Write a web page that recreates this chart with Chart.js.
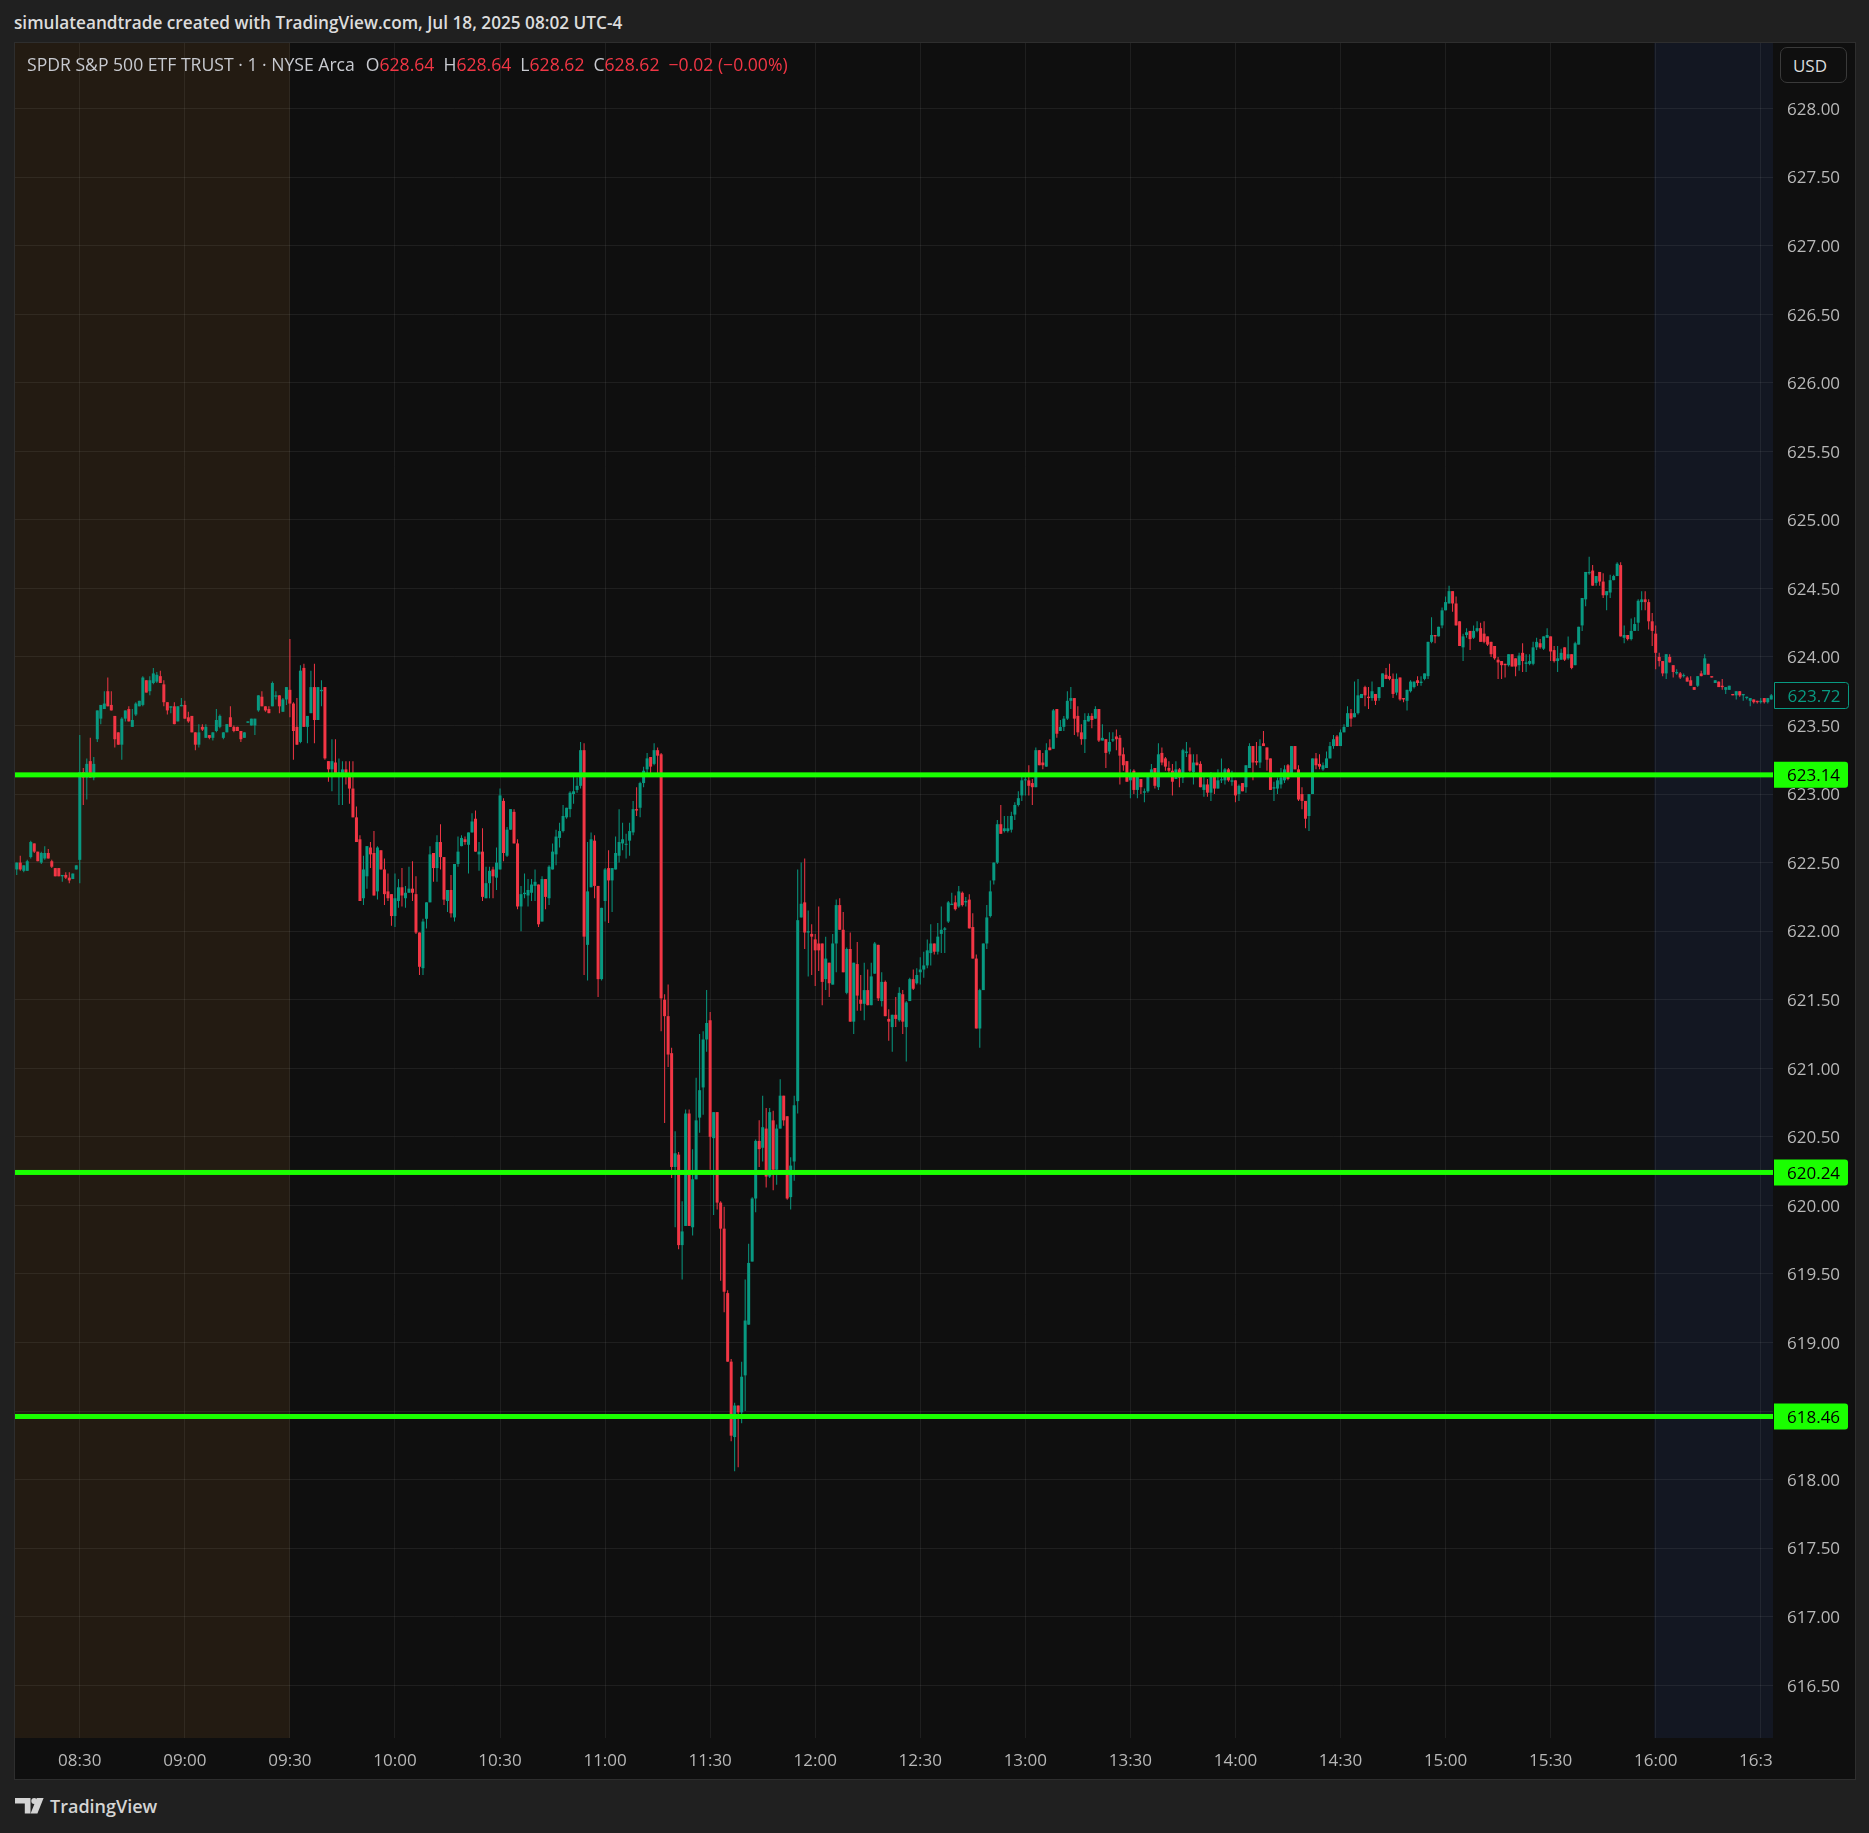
<!DOCTYPE html>
<html lang="en">
<head>
<meta charset="UTF-8">
<title>SPY 1m - TradingView snapshot</title>
<style>
    * { margin: 0; padding: 0; box-sizing: border-box; }

    body {
        width: 1869px;
        height: 1833px;
        background: #202020;
        position: relative;
        overflow: hidden;
        font-family: 'Open Sans', 'Noto Sans', sans-serif;
        color: #d1d4dc;
    }

    /* snapshot header */
    #header {
        position: absolute;
        left: 14px;
        top: 11px;
        font-size: 17.2px;
        font-weight: 600;
        line-height: 24px;
        color: #dcdcdc;
        white-space: nowrap;
    }

    /* chart frame */
    #frame {
        position: absolute;
        left: 14px;
        top: 42px;
        width: 1842px;
        height: 1738px;
        border: 1px solid #2e2e2e;
        background: #0f0f0f;
    }

    #wrap {
        position: absolute;
        left: 15px;
        top: 43px;
        width: 1839px;
        height: 1736px;
    }

    /* symbol legend */
    #legend {
        position: absolute;
        left: 27px;
        top: 52px;
        font-size: 17.6px;
        line-height: 24px;
        white-space: nowrap;
        color: #c8cad0;
    }
    #legend .r { color: #f23645; }
    #legend .gap { margin-left: 9px; }
    #legend .first { margin-left: 11px; }

    #usd {
        position: absolute;
        left: 1780px;
        top: 47px;
        width: 67px;
        height: 36px;
        border: 1px solid #3a3a3a;
        border-radius: 7px;
        background: #0f0f0f;
        font-size: 17px;
        line-height: 36px;
        padding-right: 7px;
        text-align: center;
        color: #dcdcdc;
    }

    #logo {
        position: absolute;
        left: 15px;
        top: 1797px;
        height: 20px;
    }
    #logo span {
        position: absolute;
        left: 35px;
        top: -4px;
        font-size: 18px;
        font-weight: 600;
        line-height: 26px;
        color: #d4d4d4;
        white-space: nowrap;
    }
</style>
</head>
<body>
    <div id="header">simulateandtrade created with TradingView.com, Jul 18, 2025 08:02 UTC-4</div>
    <div id="frame"></div>
    <div id="wrap"><canvas id="chart"></canvas></div>
    <div id="legend">SPDR S&amp;P 500 ETF TRUST · 1 · NYSE Arca<span class="first">O</span><span class="r">628.64</span><span class="gap">H</span><span class="r">628.64</span><span class="gap">L</span><span class="r">628.62</span><span class="gap">C</span><span class="r">628.62</span><span class="gap r">−0.02 (−0.00%)</span></div>
    <div id="usd">USD</div>
    <div id="logo">
        <svg width="30" height="17" viewBox="0 0 30 17">
            <path d="M0 1h15.5v15.5h-5.7V6.5H0z" fill="#d4d4d4"/>
            <circle cx="19.2" cy="4" r="2.9" fill="#d4d4d4"/>
            <path d="M21.8 1h6.8l-6.2 15.5h-6.8z" fill="#d4d4d4"/>
        </svg>
        <span>TradingView</span>
    </div>

    <script src="https://cdn.jsdelivr.net/npm/chart.js"></script>
    <script>
        // session / axis settings
        const startTime = '08:12';      // first 1-minute bar
        const regularOpen = '09:30';
        const regularClose = '16:00';
        const timeTicks = ['08:30', '09:00', '09:30', '10:00', '10:30', '11:00', '11:30', '12:00', '12:30',
                           '13:00', '13:30', '14:00', '14:30', '15:00', '15:30', '16:00', '16:30'];
        const yMin = 616.115;
        const yMax = 628.478;

        // horizontal levels drawn on the chart
        const levels = [623.14, 620.24, 618.46];
        const lastPrice = 623.72;

        // 1-minute OHLC, 08:12 .. 16:33
        const opens = [
            622.45,622.50,622.44,622.44,622.54,622.64,622.58,622.50,622.53,622.57,622.51,622.46,622.46,622.40,622.41,622.39,622.38,622.45,
            622.52,623.16,623.12,623.24,623.12,623.40,623.55,623.62,623.75,623.65,
            623.57,623.45,623.36,623.55,623.62,623.49,623.58,623.64,623.65,623.83,
            623.75,623.81,623.82,623.86,623.80,623.67,623.63,623.64,623.53,623.64,
            623.65,623.56,623.57,623.45,623.36,623.49,623.41,623.43,623.41,623.46,
            623.49,623.41,623.45,623.56,623.49,623.49,623.46,623.41,623.52,623.50,
            623.50,623.61,623.71,623.64,623.62,623.64,623.71,623.72,623.60,623.69,
            623.76,623.66,623.49,623.38,623.92,623.49,623.59,623.78,623.54,623.75,
            623.78,623.24,623.18,623.23,623.14,623.15,623.18,623.13,623.04,622.83,
            622.67,622.24,622.40,622.61,622.57,622.29,622.59,622.45,622.29,622.27,
            622.11,622.22,622.32,622.24,622.28,622.31,622.27,621.99,621.73,622.09,
            622.21,622.57,622.46,622.65,622.54,622.22,622.30,622.10,622.49,622.62,
            622.67,622.63,622.72,622.82,622.56,622.58,622.24,622.35,622.45,622.39,
            622.45,
            622.95,622.55,622.74,622.87,622.64,622.18,622.27,622.26,622.28,622.33,
            622.34,622.07,622.38,622.24,622.45,622.56,622.68,622.73,622.83,622.89,
            623.00,623.03,623.06,623.32,621.90,622.32,622.66,622.33,621.65,622.22,
            622.46,622.37,622.45,622.55,622.64,622.63,622.66,622.72,622.89,622.90,
            623.08,623.18,623.27,623.22,623.32,623.29,621.50,621.38,621.11,620.28,
            620.37,619.71,619.85,620.67,619.84,620.19,620.64,620.86,621.21,621.35,
            620.49,620.68,620.02,619.83,619.36,618.86,618.31,618.54,618.49,618.76,
            619.13,619.59,620.05,620.47,620.42,620.56,620.21,620.62,620.26,620.56,
            620.80,620.65,620.06,620.32,620.76,622.10,622.21,621.99,621.98,621.94,
            621.91,621.91,621.65,621.77,621.61,621.91,622.19,622.01,621.55,621.87,
            621.34,621.76,621.50,621.47,621.57,621.46,621.69,621.90,621.49,621.63,
            621.36,621.30,621.39,621.35,621.54,621.30,621.49,621.65,621.62,621.70,
            621.72,621.75,621.84,621.91,621.85,621.98,622.01,622.07,622.19,622.21,
            622.18,622.28,622.21,622.23,622.03,621.80,621.29,
            621.57,621.91,622.11,622.37,622.50,622.78,622.73,622.73,622.74,622.85,622.92,622.99,
            623.10,623.10,623.08,623.05,623.32,623.23,623.20,623.34,623.33,623.62,
            623.46,623.49,623.55,623.68,623.70,623.57,623.45,623.40,623.53,623.57,
            623.55,623.62,623.39,623.40,623.31,623.39,623.42,623.41,623.29,623.24,
            623.10,623.17,623.03,623.11,623.01,623.02,623.13,623.19,623.05,623.30,
            623.26,623.19,623.17,623.11,623.18,623.12,623.30,623.29,623.16,623.23,
            623.22,623.03,623.07,623.01,623.14,623.04,623.10,623.10,623.18,623.09,
            623.10,623.00,623.08,623.05,623.19,623.35,623.24,623.23,623.37,623.34,
            623.26,623.04,623.04,623.07,623.10,623.21,623.13,623.35,623.18,623.00,
            622.95,622.84,623.00,623.26,623.22,623.18,623.19,623.26,623.35,623.42,
            623.35,623.45,623.49,
            623.59,623.56,623.59,623.70,623.78,623.71,623.70,
            623.73,623.70,623.78,623.87,623.86,623.84,623.74,623.85,623.70,623.68,
            623.75,623.78,623.83,623.81,623.84,623.86,624.11,624.16,624.15,624.23,
            624.34,624.39,624.48,624.39,624.26,624.07,624.16,624.19,624.14,624.19,
            624.21,624.17,624.15,624.11,624.08,623.98,623.97,623.95,623.94,624.02,
            623.99,623.94,624.03,623.95,623.95,623.95,624.07,624.10,624.06,624.14,
            624.15,624.05,623.97,623.98,624.07,623.99,624.02,623.94,624.09,624.23,
            624.42,624.61,624.63,624.54,624.62,624.55,624.45,624.47,624.56,624.59,
            624.67,624.14,624.16,624.13,624.19,624.25,624.40,624.42,624.40,624.26,
            624.17,624.00,623.97,623.88,624.00,623.94,623.88,623.88,623.86,623.85,
            623.83,623.78,623.79,623.88,623.87,623.95,623.86,623.81,623.82,623.79,
            623.76,623.76,623.73,623.72,623.75,623.72,623.70,623.68,623.69,623.68,
            623.67,623.70,623.67,623.69
        ];
        const highs = [
            622.50,622.55,622.48,622.52,622.66,622.64,622.58,622.58,622.62,622.60,622.52,622.46,622.46,622.41,622.43,622.43,622.42,622.48,
            623.43,623.19,623.26,623.41,623.27,623.61,623.65,623.75,623.85,623.75,
            623.57,623.45,623.56,623.61,623.64,623.62,623.67,623.68,623.86,623.83,
            623.86,623.92,623.89,623.90,623.83,623.67,623.64,623.67,623.64,623.70,
            623.68,623.60,623.57,623.45,623.51,623.51,623.51,623.43,623.45,623.62,
            623.58,623.45,623.51,623.64,623.50,623.49,623.46,623.45,623.53,623.55,
            623.55,623.72,623.75,623.64,623.64,623.82,623.75,623.72,623.70,623.78,
            624.13,623.67,623.70,623.94,623.95,623.57,623.90,623.95,623.78,623.83,
            623.78,623.24,623.40,623.40,623.26,623.24,623.24,623.24,623.24,622.91,
            622.70,622.55,622.62,622.65,622.73,622.62,622.59,622.53,622.42,622.27,
            622.42,622.38,622.46,622.33,622.47,622.51,622.40,621.99,622.09,622.21,
            622.62,622.57,622.70,622.78,622.54,622.30,622.41,622.49,622.69,622.70,
            622.69,622.72,622.86,622.88,622.65,622.75,622.47,622.47,622.47,622.61,
            623.04,
            622.97,622.76,622.89,622.89,622.67,622.33,622.42,622.38,622.38,622.45,
            622.34,622.40,622.38,622.48,622.64,622.74,622.79,622.92,622.90,623.02,
            623.15,623.12,623.38,623.37,622.65,622.72,622.70,622.33,622.17,622.46,
            622.59,622.46,622.69,622.89,622.79,622.71,622.79,622.95,623.05,623.09,
            623.20,623.30,623.27,623.37,623.34,623.30,621.54,621.61,621.15,620.54,
            620.39,620.03,620.70,620.70,620.41,620.93,621.25,621.27,621.57,621.41,
            620.68,620.68,620.03,619.99,619.38,618.88,618.56,618.54,618.86,619.46,
            619.72,620.06,620.48,620.62,620.80,620.71,620.71,620.69,620.59,620.92,
            620.80,620.65,620.35,620.80,622.45,622.50,622.53,622.15,622.05,621.98,
            622.18,621.91,621.96,621.77,621.98,622.23,622.24,622.14,621.88,621.99,
            621.77,621.92,621.68,621.77,621.72,621.77,621.92,621.90,621.70,621.64,
            621.43,621.39,621.52,621.59,621.57,621.49,621.66,621.72,621.73,621.81,
            621.85,621.94,622.05,621.91,622.06,622.18,622.03,622.22,622.28,622.26,
            622.33,622.29,622.25,622.27,622.13,621.83,621.58,
            621.91,622.19,622.37,622.50,622.81,622.92,622.84,622.84,622.87,622.94,623.02,623.13,
            623.14,623.21,623.11,623.34,623.32,623.30,623.37,623.40,623.62,623.62,
            623.54,623.57,623.75,623.78,623.70,623.64,623.51,623.59,623.59,623.59,
            623.64,623.62,623.51,623.40,623.45,623.45,623.47,623.43,623.34,623.24,
            623.18,623.18,623.13,623.11,623.04,623.13,623.22,623.19,623.37,623.34,
            623.27,623.24,623.22,623.24,623.19,623.33,623.38,623.34,623.29,623.29,
            623.24,623.15,623.11,623.16,623.14,623.18,623.26,623.19,623.19,623.17,
            623.10,623.07,623.08,623.21,623.37,623.35,623.38,623.40,623.46,623.34,
            623.26,623.09,623.12,623.19,623.21,623.22,623.35,623.35,623.21,623.05,
            622.95,623.00,623.26,623.30,623.29,623.23,623.31,623.38,623.43,623.43,
            623.47,623.51,623.64,
            623.62,623.82,623.84,623.73,623.79,623.78,623.82,
            623.73,623.78,623.88,623.92,623.95,623.88,623.88,623.85,623.70,623.76,
            623.83,623.82,623.86,623.86,623.88,624.11,624.29,624.16,624.22,624.36,
            624.44,624.52,624.48,624.44,624.26,624.17,624.21,624.19,624.23,624.26,
            624.25,624.26,624.15,624.11,624.08,624.00,623.97,623.95,624.02,624.02,
            623.99,624.03,624.10,624.02,624.02,624.11,624.14,624.13,624.15,624.21,
            624.15,624.08,624.08,624.06,624.07,624.15,624.02,624.11,624.22,624.43,
            624.62,624.73,624.67,624.59,624.62,624.61,624.48,624.60,624.60,624.69,
            624.69,624.23,624.16,624.28,624.29,624.42,624.48,624.48,624.42,624.32,
            624.23,624.03,623.97,624.02,624.02,623.94,623.91,623.89,623.88,623.86,
            623.86,623.78,623.86,623.90,624.02,623.95,623.86,623.83,623.82,623.84,
            623.78,623.79,623.73,623.75,623.75,623.73,623.71,623.70,623.69,623.68,
            623.70,623.70,623.70,623.73
        ];
        const lows = [
            622.41,622.44,622.43,622.44,622.53,622.57,622.51,622.49,622.52,622.53,622.46,622.40,622.40,622.36,622.38,622.35,622.38,622.45,
            622.35,622.92,622.96,623.12,623.10,623.38,623.51,623.62,623.64,623.61,
            623.34,623.36,623.25,623.53,623.53,623.49,623.57,623.64,623.64,623.74,
            623.72,623.80,623.81,623.81,623.64,623.58,623.59,623.51,623.53,623.64,
            623.55,623.52,623.45,623.32,623.34,623.46,623.41,623.40,623.39,623.45,
            623.48,623.40,623.45,623.49,623.45,623.46,623.38,623.41,623.52,623.50,
            623.43,623.60,623.64,623.60,623.59,623.64,623.69,623.59,623.60,623.65,
            623.56,623.25,623.36,623.37,623.49,623.37,623.59,623.37,623.54,623.64,
            623.25,623.09,623.02,623.15,622.92,622.92,623.07,622.93,622.83,622.65,
            622.22,622.19,622.31,622.46,622.26,622.23,622.45,622.19,622.22,622.04,
            622.03,622.17,622.18,622.17,622.28,622.22,621.98,621.68,621.68,622.02,
            622.21,622.36,622.36,622.45,622.19,622.14,622.10,622.07,622.47,622.62,
            622.63,622.42,622.72,622.58,622.44,622.22,622.24,622.24,622.24,622.30,
            622.45,
            622.51,622.54,622.74,622.64,622.16,622.00,622.24,622.18,622.22,622.22,
            622.03,622.07,622.16,622.19,622.45,622.48,622.61,622.72,622.82,622.83,
            622.93,623.01,623.04,621.68,621.64,622.32,622.24,621.52,621.64,622.07,
            622.06,622.14,622.45,622.50,622.59,622.53,622.55,622.70,622.84,622.83,
            623.05,623.13,623.13,623.21,623.15,621.27,620.60,621.01,620.20,619.84,
            619.68,619.46,619.85,619.85,619.78,620.19,620.53,620.66,621.12,620.26,
            619.93,619.97,619.45,619.22,618.86,618.28,618.06,618.09,618.41,618.50,
            619.13,619.59,619.95,620.28,620.32,620.13,620.20,620.11,620.15,620.56,
            620.58,620.04,619.97,620.18,620.67,622.10,621.87,621.67,621.68,621.60,
            621.71,621.46,621.57,621.52,621.61,621.70,622.01,621.70,621.54,621.34,
            621.25,621.42,621.42,621.35,621.46,621.46,621.69,621.49,621.45,621.38,
            621.20,621.12,621.30,621.34,621.25,621.05,621.49,621.57,621.61,621.61,
            621.66,621.73,621.75,621.83,621.83,621.84,621.84,622.06,622.19,622.15,
            622.17,622.18,622.18,622.02,621.80,621.29,621.15,
            621.57,621.87,622.10,622.34,622.49,622.71,622.72,622.72,622.72,622.81,622.91,622.95,
            622.99,622.99,622.92,623.05,623.21,623.18,623.20,623.32,623.33,623.41,
            623.46,623.46,623.54,623.62,623.43,623.42,623.36,623.30,623.53,623.48,
            623.55,623.38,623.39,623.19,623.29,623.38,623.32,623.07,623.17,623.09,
            622.97,623.00,622.97,623.00,622.94,623.01,623.12,623.04,623.03,623.21,
            623.17,623.15,622.99,623.11,623.05,623.08,623.27,623.16,623.07,623.21,
            623.05,622.98,622.98,622.95,623.00,623.04,623.08,623.07,623.09,623.06,
            622.94,622.95,623.02,623.01,623.19,623.10,623.21,623.19,623.35,623.17,
            623.03,622.95,623.00,623.04,623.08,623.10,623.13,623.18,622.95,622.89,
            622.75,622.73,623.00,623.18,623.18,623.17,623.19,623.26,623.33,623.35,
            623.35,623.45,623.49,
            623.49,623.56,623.58,623.70,623.64,623.62,623.68,
            623.65,623.68,623.78,623.84,623.83,623.70,623.72,623.68,623.67,623.61,
            623.74,623.77,623.79,623.79,623.83,623.84,624.10,624.10,624.15,624.21,
            624.34,624.39,624.33,624.23,624.08,623.97,624.14,624.05,624.13,624.18,
            624.11,624.10,624.08,624.00,623.98,623.84,623.84,623.85,623.93,623.93,
            623.86,623.90,623.89,623.89,623.94,623.94,624.05,624.06,624.05,624.14,
            623.97,623.96,623.89,623.98,623.97,623.98,623.91,623.94,624.09,624.19,
            624.37,624.60,624.52,624.52,624.52,624.43,624.34,624.43,624.56,624.59,
            624.15,624.10,624.12,624.12,624.19,624.19,624.34,624.34,624.20,624.08,
            623.91,623.93,623.86,623.84,623.96,623.85,623.87,623.84,623.85,623.82,
            623.79,623.76,623.78,623.86,623.87,623.87,623.85,623.81,623.78,623.76,
            623.73,623.76,623.72,623.69,623.71,623.68,623.69,623.64,623.66,623.66,
            623.66,623.66,623.66,623.69
        ];
        const closes = [
            622.50,622.45,622.48,622.51,622.65,622.58,622.51,622.57,622.57,622.53,622.47,622.40,622.40,622.41,622.39,622.37,622.42,622.48,
            623.16,623.12,623.22,623.12,623.22,623.61,623.65,623.66,623.64,623.61,
            623.40,623.36,623.55,623.61,623.53,623.54,623.66,623.68,623.85,623.74,
            623.83,623.88,623.87,623.81,623.67,623.61,623.64,623.51,623.64,623.65,
            623.55,623.53,623.45,623.36,623.45,623.47,623.49,623.41,623.45,623.54,
            623.57,623.45,623.51,623.49,623.46,623.46,623.40,623.45,623.53,623.55,
            623.55,623.72,623.64,623.61,623.59,623.81,623.72,623.64,623.69,623.78,
            623.66,623.46,623.36,623.90,623.49,623.57,623.78,623.54,623.78,623.76,
            623.26,623.18,623.24,623.15,623.16,623.18,623.13,623.04,622.83,622.65,
            622.22,622.45,622.62,622.56,622.26,622.61,622.45,622.27,622.24,622.11,
            622.24,622.32,622.26,622.28,622.31,622.28,621.99,621.74,622.07,622.21,
            622.56,622.46,622.65,622.54,622.23,622.30,622.13,622.49,622.58,622.68,
            622.65,622.72,622.80,622.58,622.58,622.25,622.35,622.44,622.40,622.50,
            622.99,
            622.57,622.74,622.89,622.64,622.18,622.27,622.28,622.30,622.34,622.36,
            622.05,622.38,622.25,622.47,622.58,622.69,622.73,622.84,622.90,623.01,
            623.02,623.06,623.32,621.96,622.29,622.67,622.33,621.65,622.17,622.45,
            622.37,622.46,622.57,622.65,622.67,622.63,622.73,622.89,622.88,623.08,
            623.17,623.26,623.20,623.32,623.28,621.51,621.38,621.10,620.28,620.38,
            619.71,619.81,620.67,619.85,620.19,620.62,620.84,621.21,621.33,620.50,
            620.68,620.02,619.83,619.37,618.86,618.32,618.54,618.49,618.75,619.16,
            619.58,620.05,620.47,620.41,620.57,620.21,620.68,620.26,620.56,620.80,
            620.62,620.05,620.29,620.73,622.08,622.20,621.99,622.00,621.96,621.86,
            621.86,621.63,621.80,621.62,621.91,622.19,622.01,621.70,621.87,621.34,
            621.77,621.53,621.47,621.57,621.46,621.67,621.91,621.51,621.63,621.38,
            621.34,621.39,621.36,621.55,621.34,621.48,621.65,621.58,621.68,621.72,
            621.75,621.86,621.91,621.85,621.96,622.01,622.02,622.21,622.20,622.16,
            622.29,622.19,622.22,622.02,621.80,621.29,621.57,
            621.91,622.10,622.29,622.50,622.78,622.71,622.75,622.75,622.84,622.92,622.97,623.10,
            623.10,623.06,623.05,623.32,623.21,623.21,623.32,623.32,623.61,623.44,
            623.49,623.55,623.68,623.70,623.55,623.45,623.40,623.54,623.57,623.54,
            623.62,623.39,623.41,623.30,623.38,623.40,623.40,623.28,623.21,623.09,
            623.15,623.03,623.13,623.05,623.02,623.13,623.18,623.06,623.29,623.23,
            623.20,623.17,623.09,623.18,623.12,623.32,623.31,623.17,623.23,623.21,
            623.05,623.07,623.01,623.15,623.04,623.10,623.10,623.18,623.10,623.10,
            622.99,623.06,623.02,623.21,623.35,623.23,623.23,623.35,623.35,623.25,
            623.03,623.05,623.10,623.12,623.18,623.11,623.35,623.18,622.96,622.95,
            622.82,623.00,623.26,623.21,623.20,623.21,623.26,623.35,623.40,623.35,
            623.45,623.49,623.59,
            623.55,623.59,623.72,623.73,623.72,623.70,623.75,
            623.68,623.78,623.88,623.84,623.84,623.73,623.84,623.69,623.69,623.76,
            623.82,623.82,623.81,623.82,623.88,624.11,624.16,624.15,624.22,624.34,
            624.40,624.48,624.39,624.23,624.08,624.15,624.18,624.13,624.19,624.21,
            624.11,624.11,624.09,624.02,623.99,623.96,623.94,623.94,624.02,623.93,
            623.93,624.01,623.97,623.96,623.97,624.07,624.11,624.07,624.15,624.16,
            624.04,623.97,623.99,624.03,623.98,624.02,623.92,624.10,624.22,624.43,
            624.62,624.62,624.52,624.59,624.55,624.45,624.48,624.56,624.59,624.68,
            624.15,624.16,624.13,624.19,624.24,624.41,624.42,624.40,624.26,624.19,
            624.03,623.97,623.88,624.02,623.96,623.89,623.89,623.85,623.86,623.82,
            623.79,623.76,623.86,623.86,623.99,623.87,623.85,623.83,623.78,623.78,
            623.78,623.79,623.72,623.75,623.72,623.73,623.71,623.70,623.67,623.67,
            623.68,623.67,623.70,623.72
        ];

        const upColor = '#089981';
        const downColor = '#f23645';
        const levelColor = '#1aff00';
        const gridColor = 'rgba(255, 255, 255, 0.065)';
        const axisFont = { family: "'Open Sans', 'Noto Sans', sans-serif", size: 17 };

        // one category per minute bar
        const labels = [];
        let [hh, mm] = startTime.split(':').map(Number);
        for (let i = 0; i < closes.length; i++) {
            labels.push(String(hh).padStart(2, '0') + ':' + String(mm).padStart(2, '0'));
            mm++;
            if (mm === 60) { mm = 0; hh++; }
        }

        const bodies = opens.map((o, i) => [o, closes[i]]);
        const wicks = opens.map((o, i) => [Math.min(lows[i], o, closes[i]), Math.max(highs[i], o, closes[i])]);
        const barColors = opens.map((o, i) => closes[i] >= o ? upColor : downColor);

        // pre-market / after-hours backgrounds
        const sessionShade = {
            id: 'sessionShade',
            beforeDraw(chart) {
                const { ctx, chartArea: a, scales: { x } } = chart;
                ctx.save();
                ctx.fillStyle = '#0f0f0f';
                ctx.fillRect(0, 0, chart.width, chart.height);
                const openX = x.getPixelForValue(labels.indexOf(regularOpen));
                const closeX = x.getPixelForValue(labels.indexOf(regularClose)) - 1.5;
                ctx.fillStyle = '#231b12';
                ctx.fillRect(a.left, a.top, openX - a.left, a.bottom - a.top);
                ctx.fillStyle = '#131722';
                ctx.fillRect(closeX, a.top, a.right - closeX, a.bottom - a.top);
                ctx.restore();
            }
        };

        function priceTag(ctx, left, y, text, fill, stroke, textColor) {
            const w = 74, h = 26, r = 3;
            ctx.beginPath();
            ctx.moveTo(left, y - h / 2);
            ctx.lineTo(left + w - r, y - h / 2);
            ctx.arcTo(left + w, y - h / 2, left + w, y - h / 2 + r, r);
            ctx.lineTo(left + w, y + h / 2 - r);
            ctx.arcTo(left + w, y + h / 2, left + w - r, y + h / 2, r);
            ctx.lineTo(left, y + h / 2);
            ctx.closePath();
            ctx.fillStyle = fill;
            ctx.fill();
            if (stroke) {
                ctx.strokeStyle = stroke;
                ctx.lineWidth = 1;
                ctx.stroke();
            }
            ctx.fillStyle = textColor;
            ctx.font = "17px 'Open Sans', 'Noto Sans', sans-serif";
            ctx.textAlign = 'left';
            ctx.textBaseline = 'middle';
            ctx.fillText(text, left + 13, y + 1.5);
        }

        // green levels and the axis tags
        const levelLines = {
            id: 'levelLines',
            afterDatasetsDraw(chart) {
                const { ctx, chartArea: a, scales: { y } } = chart;
                ctx.save();
                ctx.fillStyle = levelColor;
                levels.forEach(v => {
                    const py = y.getPixelForValue(v);
                    ctx.fillRect(a.left, py - 2.5, a.right - a.left, 5);
                });
                ctx.restore();
            },
            afterDraw(chart) {
                const { ctx, chartArea: a, scales: { y } } = chart;
                ctx.save();
                // blank corner under the price scale (clips the last time label)
                ctx.fillStyle = '#0f0f0f';
                ctx.fillRect(a.right, a.bottom, chart.width - a.right, chart.height - a.bottom);
                levels.forEach(v => {
                    priceTag(ctx, a.right + 1, y.getPixelForValue(v), v.toFixed(2), levelColor, null, '#000000');
                });
                priceTag(ctx, a.right + 1.5, Math.round(y.getPixelForValue(lastPrice)) + 0.5,
                         lastPrice.toFixed(2), '#0f0f0f', upColor, upColor);
                ctx.restore();
            }
        };

        new Chart(document.getElementById('chart'), {
            type: 'bar',
            data: {
                labels: labels,
                datasets: [
                    {
                        label: 'body',
                        data: bodies,
                        backgroundColor: barColors,
                        barThickness: 3,
                        minBarLength: 1,
                        grouped: false,
                        inflateAmount: 0,
                        order: 0
                    },
                    {
                        label: 'wick',
                        data: wicks,
                        backgroundColor: barColors,
                        barThickness: 1,
                        grouped: false,
                        inflateAmount: 0,
                        order: 1
                    }
                ]
            },
            options: {
                responsive: true,
                maintainAspectRatio: false,
                animation: false,
                devicePixelRatio: 1,
                layout: { padding: 0 },
                plugins: {
                    legend: { display: false },
                    tooltip: { enabled: false }
                },
                scales: {
                    x: {
                        offset: true,
                        grid: { color: gridColor, offset: false, drawTicks: false },
                        border: { display: false },
                        ticks: {
                            autoSkip: false,
                            maxRotation: 0,
                            padding: 13,
                            color: '#b8b8b8',
                            font: axisFont,
                            callback: (value, index) => timeTicks.includes(labels[index]) ? labels[index] : null
                        },
                        afterFit: (scale) => {
                            scale.height = 41;
                            scale.paddingLeft = 0;
                            scale.paddingRight = 0;
                        }
                    },
                    y: {
                        position: 'right',
                        min: yMin,
                        max: yMax,
                        grid: { color: gridColor, drawTicks: false },
                        border: { display: false },
                        ticks: {
                            stepSize: 0.5,
                            padding: 14,
                            labelOffset: 1.5,
                            color: '#b8b8b8',
                            font: axisFont,
                            callback: (value) => value.toFixed(2)
                        },
                        afterBuildTicks: (scale) => {
                            scale.ticks = scale.ticks.filter(t => Math.abs(t.value * 2 - Math.round(t.value * 2)) < 1e-6);
                        },
                        afterFit: (scale) => {
                            scale.width = 81;
                            scale.paddingTop = 0;
                            scale.paddingBottom = 0;
                        }
                    }
                }
            },
            plugins: [sessionShade, levelLines]
        });
    </script>
</body>
</html>
